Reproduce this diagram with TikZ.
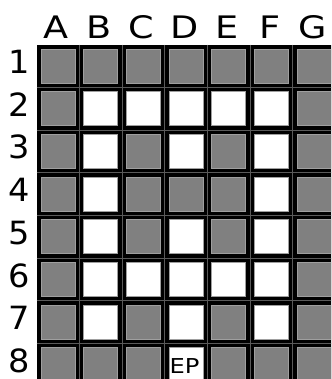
\documentclass[tikz,border=0pt]{standalone}
\usepackage{fontspec}
\setmainfont{DejaVu Sans}
\newfontfamily\letfont[FakeStretch=1.18]{DejaVu Sans}
\newfontfamily\digfont[FakeStretch=1.05]{DejaVu Sans}
\definecolor{cellgray}{RGB}{128,128,128}
\definecolor{seamgray}{RGB}{90,90,90}
\begin{document}
\begin{tikzpicture}[x=1pt,y=-1pt,
  cellbox/.style={minimum size=34.0pt,inner sep=0pt,outer sep=0pt,fill=cellgray,draw=gray!75,line width=0.6pt},
  whitecell/.style={fill=white},
  seam/.style={draw=seamgray,line width=0.5pt},
  collab/.style={font=\letfont\fontsize{31}{31}\selectfont,anchor=base,inner sep=0pt},
  rowlab/.style={font=\digfont\fontsize{32}{32}\selectfont,anchor=base,inner sep=0pt},
  eplab/.style={font=\letfont\fontsize{20.5}{20.5}\selectfont,anchor=base west,inner sep=0pt}]
\def\gx{36.6}
\def\gy{44.7}
\def\p{42.65}
\useasboundingbox (0,0) rectangle (331,379);
\clip (0,0) rectangle (331,379);
\fill[black] (\gx,\gy) rectangle (345,395);
% seams
\foreach \k in {1,...,7} {
  \draw[seam] ({\gx+\k*\p},\gy) -- ({\gx+\k*\p},395);
}
\foreach \k in {1,...,8} {
  \draw[seam] (\gx,{\gy+\k*\p}) -- (345,{\gy+\k*\p});
}
% cells
\foreach \c in {1,...,7} {
  \foreach \r in {1,...,8} {
    \node[cellbox] (c\c-\r) at ({\gx+(\c-0.5)*\p},{\gy+(\r-0.5)*\p}) {};
  }
}
\foreach \c/\r in {2/2,3/2,4/2,5/2,6/2,
                   2/3,4/3,6/3,
                   2/4,6/4,
                   2/5,4/5,6/5,
                   2/6,3/6,4/6,5/6,6/6,
                   2/7,4/7,6/7,
                   4/8} {
  \node[cellbox,whitecell] at (c\c-\r) {};
}
% column labels
\foreach \l [count=\c] in {A,B,C,D,E,F,G} {
  \node[collab] (col\l) at ({\gx+(\c-0.5)*\p-1.5},38.3) {\l};
}
% row labels
\foreach \r in {1,...,8} {
  \node[rowlab] (row\r) at (19.5,{73.3+(\r-1)*42.75}) {\r};
}
\node[eplab] (ep) at (169.3,373.3) {EP};
\end{tikzpicture}
\end{document}
